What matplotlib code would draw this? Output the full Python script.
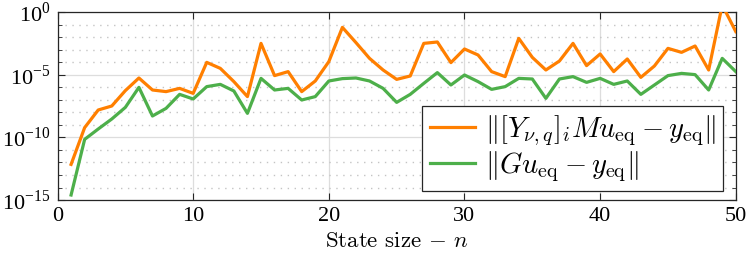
import numpy as np
import matplotlib
matplotlib.use("Agg")
import matplotlib.pyplot as plt
from matplotlib.ticker import FixedLocator, NullFormatter, FixedFormatter
from matplotlib.font_manager import FontProperties

n = list(range(1, 51))
log_orange = [-12.15, -9.21, -7.8, -7.48, -6.25, -5.24, -6.2, -6.33, -6.07, -6.47,
              -3.99, -4.47, -5.53, -6.73, -2.47, -5.05, -4.73, -6.33, -5.48, -3.93,
              -1.19, -2.41, -3.67, -4.6, -5.35, -5.08, -2.47, -2.36, -4.01, -2.92,
              -3.4, -4.73, -5.13, -2.07, -3.59, -4.6, -3.88, -2.47, -4.25, -3.32,
              -4.73, -3.72, -5.19, -4.28, -2.87, -3.19, -2.68, -4.6, 0.6, -1.53]
log_green = [-14.6, -10.15, -9.32, -8.52, -7.59, -5.99, -8.28, -7.67, -6.55, -6.92,
             -5.93, -5.75, -6.28, -8.07, -5.27, -6.2, -6.07, -7.0, -6.73, -5.48,
             -5.29, -5.24, -5.48, -6.07, -7.19, -6.55, -5.67, -4.81, -5.8, -5.0,
             -5.53, -6.15, -5.93, -5.27, -5.32, -6.87, -5.32, -5.13, -5.59, -5.27,
             -5.75, -5.48, -6.55, -5.8, -5.05, -4.87, -4.97, -6.2, -3.67, -4.73]
orange_vals = 10.0 ** np.array(log_orange)
green_vals = 10.0 ** np.array(log_green)

x_ticks = [0, 10, 20, 30, 40, 50]
y_major = [1e-15, 1e-10, 1e-5, 1e0]
y_labels = ['10$^{\\mathregular{-15}}$', '10$^{\\mathregular{-10}}$', '10$^{\\mathregular{-5}}$', '10$^{\\mathregular{0}}$']

plt.rcParams['mathtext.fontset'] = 'cm'
plt.rcParams['font.family'] = ['Liberation Serif', 'DejaVu Serif']

fig = plt.figure(figsize=(7.47, 2.58), dpi=100)
ax = fig.add_axes([0.077, 0.2248, 0.908, 0.7268])

ax.plot(n, orange_vals, color='#FF7F00', lw=2.3,
        label=r'$\|[Y_{\nu,q}]_i M u_{\mathrm{eq}} - y_{\mathrm{eq}}\|$', zorder=3)
ax.plot(n, green_vals, color='#4DAF4A', lw=2.3,
        label=r'$\|G u_{\mathrm{eq}} - y_{\mathrm{eq}}\|$', zorder=3)

ax.set_yscale('log')
ax.set_xlim(0, 50)
ax.set_ylim(1e-15, 1e0)

ax.xaxis.set_major_locator(FixedLocator(x_ticks))
ax.yaxis.set_major_locator(FixedLocator(y_major))
ax.yaxis.set_major_formatter(FixedFormatter(y_labels))
ax.yaxis.set_minor_locator(FixedLocator([10.0 ** k for k in range(-15, 1)]))
ax.yaxis.set_minor_formatter(NullFormatter())

tickfont = FontProperties(family='Liberation Serif', size=16, math_fontfamily='stix')
for lab in ax.get_xticklabels() + ax.get_yticklabels():
    lab.set_fontproperties(tickfont)

ax.tick_params(which='both', direction='in', top=True, right=True, color='#262626')
ax.tick_params(which='major', length=5, width=0.8, pad=5)
ax.tick_params(which='minor', length=3, width=0.6)

ax.grid(True, which='major', color='#dddddd', lw=0.9, ls='-')
ax.grid(True, which='minor', axis='y', color='#c4c4c4', lw=1.0, ls=(0, (1, 4)))
ax.set_axisbelow(True)

for s in ax.spines.values():
    s.set_color('#262626')
    s.set_linewidth(0.9)

ax.set_xlabel(r'State size $-$ $n$',
              fontproperties=FontProperties(family='cmr10', size=16.5, math_fontfamily='cm'),
              labelpad=4)

leg = ax.legend(loc='lower right', bbox_to_anchor=(0.981, 0.048), borderaxespad=0,
                fancybox=False, framealpha=1, edgecolor='#262626',
                prop=FontProperties(size=20.5, math_fontfamily='cm'),
                handlelength=1.6, handletextpad=0.35, borderpad=0.25, labelspacing=0.05)
leg.get_frame().set_linewidth(0.9)

fig.savefig('out.png', dpi=100)
